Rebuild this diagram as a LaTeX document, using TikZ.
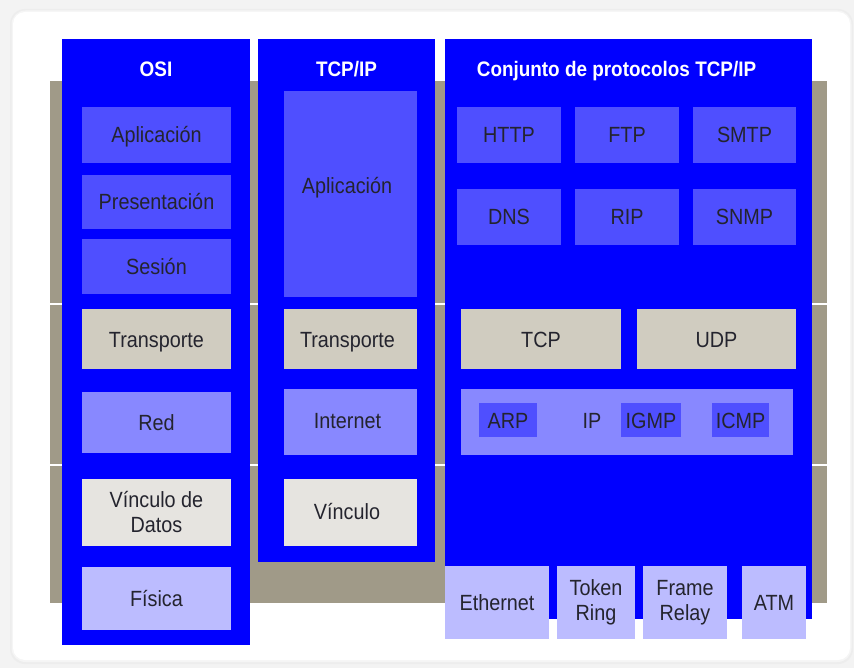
\documentclass[tikz,border=0pt]{standalone}
\usepackage{fontspec}
\setmainfont{Liberation Sans}[FakeStretch=0.9]

\definecolor{colblue}{HTML}{0000FF}
\definecolor{boxmid}{HTML}{4F4FFF}
\definecolor{boxlight}{HTML}{8888FF}
\definecolor{boxpale}{HTML}{BCBCFF}
\definecolor{boxsand}{HTML}{D0CCC0}
\definecolor{boxstone}{HTML}{E6E4E0}
\definecolor{band}{HTML}{A09A88}
\definecolor{txt}{HTML}{24242E}
\definecolor{page}{HTML}{F3F3F3}

% box given by its corners (x1,y1)-(x2,y2), y growing downwards
\newcommand\layerbox[8][]{%
  \node[layer,fill=#3,#1,
        minimum width={(#6-#4)*1pt},minimum height={(#7-#5)*1pt}]
        (#2) at ({(#4+#6)/2},{(#5+#7)/2}) {#8};}

\begin{document}
\begin{tikzpicture}[x=1pt,y=-1pt,
  layer/.style={inner sep=0pt,outer sep=0pt,align=center,text=txt,
    font=\fontsize{22}{25}\selectfont,text height=16pt,text depth=0pt},
  twoline/.style={text height=,text depth=},
  column/.style={fill=colblue},
  head/.style={inner sep=0pt,text=white,font=\bfseries\fontsize{21}{24}\selectfont,
    text height=15pt,text depth=0pt},
  plain/.style={inner sep=0pt,text=txt,font=\fontsize{22}{25}\selectfont,
    text height=16pt,text depth=0pt}]

\useasboundingbox (0,0) rectangle (854,668);
\fill[page] (0,0) rectangle (854,668);

% card with soft edge
\fill[black!7,rounded corners=15pt] (10,9) rectangle (853,664);
\fill[black!4,rounded corners=14pt] (11.5,10.5) rectangle (851.5,662);
\fill[white,rounded corners=12pt] (13,12) rectangle (850,660);

% layer band behind the columns
\fill[band] (50,81) rectangle (827,603);
\draw[white,line width=2pt] (50,304) -- (827,304);
\draw[white,line width=2pt] (50,465) -- (827,465);

% columns
\layerbox[column]{osi}{colblue}{62}{39}{250}{645}{}
\layerbox[column]{tcpip}{colblue}{258}{39}{435}{562}{}
\layerbox[column]{suite}{colblue}{445}{39}{812}{619}{}

\node[head] (osihead) at (156,69) {OSI};
\node[head] (tcphead) at (346.5,69) {TCP/IP};
\node[head] (suitehead) at (616.5,69) {Conjunto de protocolos TCP/IP};

% OSI model
\layerbox{osiapp}{boxmid}{82}{107}{231}{163}{Aplicación}
\layerbox{osipres}{boxmid}{82}{175}{231}{229}{Presentación}
\layerbox{osises}{boxmid}{82}{239}{231}{294}{Sesión}
\layerbox{ositrans}{boxsand}{82}{309}{231}{369}{Transporte}
\layerbox{osired}{boxlight}{82}{392}{231}{453}{Red}
\layerbox[twoline]{osilink}{boxstone}{82}{479}{231}{546}{Vínculo de\\Datos}
\layerbox{osiphys}{boxpale}{82}{567}{231}{630}{Física}

% TCP/IP model (labels sit slightly left of centre)
\layerbox{tcpapp}{boxmid}{284}{91}{417}{297}{}
\node[plain] (tcpapptext) at (347,186) {Aplicación};
\layerbox{tcptrans}{boxsand}{284}{309}{417}{369}{}
\node[plain] (tcptranstext) at (347.5,339) {Transporte};
\layerbox{tcpnet}{boxlight}{284}{389}{417}{455}{}
\node[plain] (tcpnettext) at (347.5,420) {Internet};
\layerbox{tcplink}{boxstone}{284}{479}{417}{546}{}
\node[plain] (tcplinktext) at (347,511) {Vínculo};

% protocol suite: application
\layerbox{http}{boxmid}{457}{107}{561}{163}{HTTP}
\layerbox{ftp}{boxmid}{575}{107}{679}{163}{FTP}
\layerbox{smtp}{boxmid}{693}{107}{796}{163}{SMTP}
\layerbox{dns}{boxmid}{457}{189}{561}{245}{DNS}
\layerbox{rip}{boxmid}{575}{189}{679}{245}{RIP}
\layerbox{snmp}{boxmid}{693}{189}{796}{245}{SNMP}

% transport
\layerbox{tcp}{boxsand}{461}{309}{621}{369}{TCP}
\layerbox{udp}{boxsand}{637}{309}{796}{369}{UDP}

% internet
\layerbox{ipbox}{boxlight}{461}{389}{793}{455}{}
\layerbox{arp}{boxmid}{479}{403}{537}{437}{ARP}
\node[plain] (iptext) at (592,420) {IP};
\layerbox{igmp}{boxmid}{621}{403}{681}{437}{IGMP}
\layerbox{icmp}{boxmid}{712}{403}{769}{437}{ICMP}

% link technologies
\layerbox{ether}{boxpale}{445}{566}{549}{639}{Ethernet}
\layerbox[twoline]{token}{boxpale}{557}{566}{635}{639}{Token\\Ring}
\layerbox[twoline]{frame}{boxpale}{643}{566}{727}{639}{Frame\\Relay}
\layerbox{atm}{boxpale}{742}{566}{806}{639}{ATM}

\end{tikzpicture}
\end{document}
